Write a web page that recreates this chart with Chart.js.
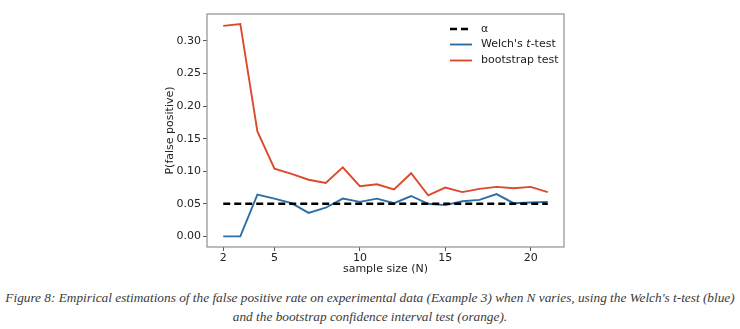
<!DOCTYPE html>
<html>
<head>
<meta charset="utf-8">
<script src="https://cdn.jsdelivr.net/npm/chart.js@4/dist/chart.umd.min.js"></script>
<style>
  html, body { margin: 0; padding: 0; background: #fff; }
  #wrap { position: relative; width: 740px; height: 280px; }
  #caption { width: 740px; text-align: center; font-family: "Liberation Serif", "DejaVu Serif", serif; font-style: italic; font-size: 13.3px; color: #3a3a3a; line-height: 19px; margin-top: 8px; white-space: nowrap; }
</style>
</head>
<body>
<div id="wrap"><canvas id="c" width="740" height="280"></canvas></div>
<div id="caption">Figure 8: Empirical estimations of the false positive rate on experimental data (Example 3) when N varies, using the Welch's t-test (blue)<br>and the bootstrap confidence interval test (orange).</div>
<script>
const sampleSizes = [2,3,4,5,6,7,8,9,10,11,12,13,14,15,16,17,18,19,20,21];
const welch =      [0.000,0.000,0.064,0.058,0.051,0.036,0.044,0.058,0.053,0.058,0.051,0.062,0.050,0.048,0.054,0.056,0.065,0.051,0.052,0.053];
const bootstrap =  [0.323,0.326,0.161,0.104,0.096,0.087,0.082,0.106,0.077,0.080,0.072,0.097,0.063,0.075,0.068,0.073,0.076,0.074,0.076,0.068];
const alphaLevel = 0.05;
const xTicks = [2,5,10,15,20];
const yTicks = [0.00,0.05,0.10,0.15,0.20,0.25,0.30];
const seriesLabels = ['α', "Welch's t-test", 'bootstrap test'];

const pts = arr => sampleSizes.map((n,i)=>({x:n,y:arr[i]}));

const framePlugin = {
  id: 'frame',
  afterDatasetsDraw(chart) {
    const {ctx, chartArea:a} = chart;
    ctx.save();
    ctx.strokeStyle = '#8f8f8f';
    ctx.lineWidth = 1.2;
    ctx.strokeRect(a.left, a.top, a.right - a.left, a.bottom - a.top);
    // legend
    const items = chart.data.datasets;
    const x0 = 450, x1 = 472, tx = 481;
    const ys = [29, 44.5, 60.5];
    ctx.font = '11px "DejaVu Sans"';
    ctx.textBaseline = 'middle';
    items.forEach((ds, i) => {
      ctx.beginPath();
      ctx.setLineDash(ds.borderDash || []);
      ctx.strokeStyle = ds.borderColor;
      ctx.lineWidth = ds.borderWidth;
      ctx.moveTo(x0, ys[i]); ctx.lineTo(x1, ys[i]);
      ctx.stroke();
      ctx.setLineDash([]);
      ctx.fillStyle = '#222';
      if (i === 1) {
        const a1 = "Welch's ";
        ctx.fillText(a1, tx, ys[i]);
        let w = ctx.measureText(a1).width;
        ctx.font = 'italic 11px "DejaVu Sans"';
        ctx.fillText('t', tx + w, ys[i]);
        w += ctx.measureText('t').width;
        ctx.font = '11px "DejaVu Sans"';
        ctx.fillText('-test', tx + w, ys[i]);
      } else {
        ctx.fillText(ds.label, tx, ys[i]);
      }
    });
    ctx.restore();
  }
};

new Chart(document.getElementById('c'), {
  type: 'line',
  data: {
    datasets: [
      { label: seriesLabels[0], data: [{x:sampleSizes[0],y:alphaLevel},{x:sampleSizes[sampleSizes.length-1],y:alphaLevel}],
        borderColor: '#000', borderWidth: 2.6, borderDash: [7,4], pointRadius: 0, order: 0 },
      { label: seriesLabels[1], data: pts(welch), borderColor: '#2c6ea6', borderWidth: 1.9, pointRadius: 0, order: 1 },
      { label: seriesLabels[2], data: pts(bootstrap), borderColor: '#dc4a2c', borderWidth: 1.9, pointRadius: 0, order: 2 }
    ]
  },
  options: {
    responsive: false,
    animation: false,
    layout: { padding: { left: 160, right: 176, top: 14, bottom: 0 } },
    plugins: { legend: { display: false }, tooltip: { enabled: false } },
    scales: {
      x: {
        type: 'linear', min: 1.05, max: 21.95,
        afterBuildTicks: s => { s.ticks = xTicks.map(v => ({value: v})); },
        afterFit: s => { s.height = 33; },
        grid: { drawOnChartArea: false, drawTicks: true, tickLength: 4, color: '#555' },
        border: { display: false },
        ticks: { color: '#222', font: { family: 'DejaVu Sans', size: 11 }, padding: 1, maxRotation: 0,
                 callback: v => String(v) },
        title: { display: true, text: 'sample size (N)', color: '#222', font: { family: 'DejaVu Sans', size: 11 }, padding: { top: 0, bottom: 4 } }
      },
      y: {
        type: 'linear', min: -0.01625, max: 0.34125,
        afterBuildTicks: s => { s.ticks = yTicks.map(v => ({value: v})); },
        afterFit: s => { s.width = 47; },
        grid: { drawOnChartArea: false, drawTicks: true, tickLength: 4, color: '#555' },
        border: { display: false },
        ticks: { color: '#222', font: { family: 'DejaVu Sans', size: 11 }, padding: 2,
                 callback: v => Number(v).toFixed(2) },
        title: { display: true, text: 'P(false positive)', color: '#222', font: { family: 'DejaVu Sans', size: 11 }, padding: { top: 4, bottom: 0 } }
      }
    }
  },
  plugins: [framePlugin]
});
</script>
</body>
</html>
